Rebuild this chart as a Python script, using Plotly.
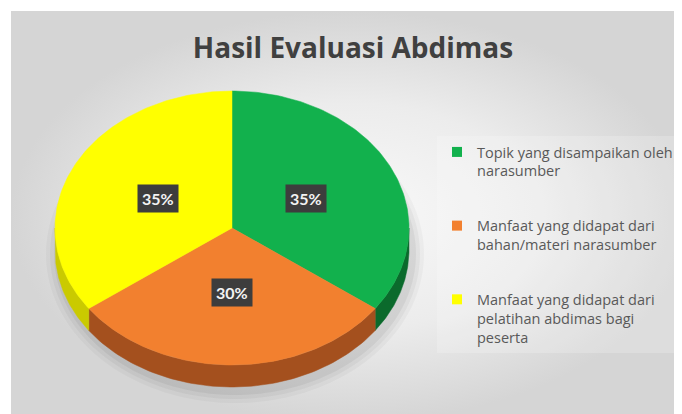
import numpy as np
import plotly.graph_objects as go

# ---- data ----
categories = [
    "Topik yang disampaikan oleh narasumber",
    "Manfaat yang didapat dari bahan/materi narasumber",
    "Manfaat yang didapat dari pelatihan abdimas bagi peserta",
]
legend_labels = [
    "Topik yang disampaikan oleh<br>narasumber",
    "Manfaat yang didapat dari<br>bahan/materi narasumber",
    "Manfaat yang didapat dari<br>pelatihan abdimas bagi<br>peserta",
]
values = [35, 30, 35]
title_text = "Hasil Evaluasi Abdimas"

# ---- style ----
top_colors = ["#12b14d", "#f2802f", "#ffff00"]
wall_colors = ["#0b6a2c", "#a4501e", "#caca00"]
W, H = 682, 414
OFF = 8  # page body margin of the browser
cx, cy, rx, ry, depth = 232, 228, 177, 137, 22
label_r = 0.47

total = sum(values)
fracs = [v / total for v in values]
starts = np.cumsum([0] + fracs[:-1]) * 360


def pts(thetas, dy=0.0):
    t = np.radians(thetas)
    return cx + rx * np.sin(t), cy - ry * np.cos(t) + dy


def px(xw):
    return (xw - OFF) / W


def py(yw):
    return 1 - (yw - OFF) / H


fig = go.Figure()

# background panel with radial gradient
fig.add_trace(go.Scatter(
    x=[11, W + OFF, W + OFF, 11, 11], y=[11, 11, H + OFF, H + OFF, 11],
    fill="toself", mode="none",
    fillgradient=dict(type="radial",
                      colorscale=[[0, "#f9f9f9"], [0.55, "#ececec"], [1, "#d5d5d5"]]),
    hoverinfo="skip", showlegend=False))

# soft shadow
th = np.linspace(0, 360, 181)
for grow, alpha in [(12, 0.03), (8, 0.04), (4, 0.05)]:
    t = np.radians(th)
    sx = cx + 3 + (rx + grow) * np.sin(t)
    sy = cy + depth + 4 - (ry + grow) * np.cos(t)
    fig.add_trace(go.Scatter(x=sx, y=sy, fill="toself", mode="none",
                             fillcolor=f"rgba(0,0,0,{alpha})",
                             hoverinfo="skip", showlegend=False))

# side walls (front half only)
for i, f in enumerate(fracs):
    a, b = starts[i], starts[i] + 360 * f
    lo, hi = max(a, 90), min(b, 270)
    if hi > lo:
        ts = np.linspace(lo, hi, 80)
        x1, y1 = pts(ts)
        x2, y2 = pts(ts[::-1], depth)
        fig.add_trace(go.Scatter(
            x=np.concatenate([x1, x2, x1[:1]]), y=np.concatenate([y1, y2, y1[:1]]),
            fill="toself", mode="lines", line=dict(width=0.5, color=wall_colors[i]),
            fillcolor=wall_colors[i], hoverinfo="skip", showlegend=False))

# top surfaces
for i, f in enumerate(fracs):
    a, b = starts[i], starts[i] + 360 * f
    ts = np.linspace(a, b, 120)
    xa, ya = pts(ts)
    fig.add_trace(go.Scatter(
        x=np.concatenate([[cx], xa, [cx]]), y=np.concatenate([[cy], ya, [cy]]),
        fill="toself", mode="lines", line=dict(width=0.5, color=top_colors[i]),
        fillcolor=top_colors[i], hoverinfo="skip", showlegend=False))

# legend entries
for i, lab in enumerate(legend_labels):
    fig.add_trace(go.Scatter(
        x=[None], y=[None], mode="markers", name=lab, legendgroup=str(i),
        marker=dict(symbol="square", size=10, color=top_colors[i])))

# percentage labels
annotations = []
for i, f in enumerate(fracs):
    mid = starts[i] + 180 * f
    t = np.radians(mid)
    lx = cx + rx * label_r * np.sin(t)
    ly = cy - ry * label_r * np.cos(t)
    annotations.append(dict(
        x=lx, y=ly, xref="x", yref="y", text=f"<b>{round(f * 100)}%</b>",
        showarrow=False, bgcolor="#3d3d3d", borderpad=4,
        font=dict(family="Lato", size=16, color="#f2f2f2")))

fig.update_layout(
    width=W, height=H,
    margin=dict(l=0, r=0, t=0, b=0),
    paper_bgcolor="white", plot_bgcolor="white",
    xaxis=dict(range=[OFF, W + OFF], visible=False, fixedrange=True),
    yaxis=dict(range=[H + OFF, OFF], visible=False, fixedrange=True),
    title=dict(text=f"<b>{title_text}</b>", x=px(353), xanchor="center",
               y=py(48), yanchor="middle",
               font=dict(family="Open Sans", size=28, color="#404040")),
    legend=dict(x=px(437), xanchor="left", y=py(136), yanchor="top",
                bgcolor="rgba(255,255,255,0.2)", valign="top",
                tracegroupgap=33,
                font=dict(family="Open Sans", size=14.5, color="#595959")),
    annotations=annotations,
    showlegend=True,
)

fig.write_html("out.html")
